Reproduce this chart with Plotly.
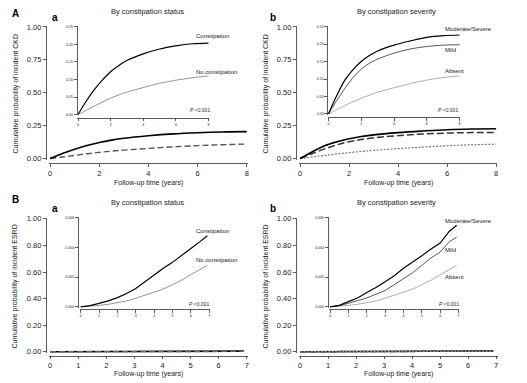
import plotly.graph_objects as go

W, H = 527, 383
FONT = "Liberation Sans, Arial, sans-serif"

# ---------------- data ----------------
t_ckd = [0, 0.5, 1, 1.5, 2, 2.5, 3, 4, 5, 6, 7, 8]
ckd_constip = [0, 0.038, 0.071, 0.099, 0.122, 0.140, 0.154, 0.173, 0.187, 0.196, 0.202, 0.204]
ckd_noconstip = [0, 0.012, 0.024, 0.036, 0.047, 0.056, 0.064, 0.077, 0.089, 0.098, 0.105, 0.110]
ckd_modsev = [0, 0.052, 0.097, 0.127, 0.150, 0.167, 0.180, 0.197, 0.209, 0.219, 0.224, 0.226]
ckd_mild = [0, 0.038, 0.073, 0.104, 0.128, 0.145, 0.157, 0.174, 0.186, 0.193, 0.197, 0.198]
ckd_absent = [0, 0.012, 0.024, 0.035, 0.045, 0.054, 0.062, 0.075, 0.087, 0.097, 0.104, 0.109]

t_esrd = [0, 0.5, 1, 1.5, 2, 2.5, 3, 3.5, 4, 4.5, 5, 5.5, 6, 6.5, 6.9]
esrd_constip = [0, 0.00008, 0.00024, 0.0004, 0.00062, 0.0009, 0.00124, 0.0017, 0.00212, 0.0026, 0.0030, 0.0035, 0.00394, 0.0044, 0.0048]
esrd_noconstip = [0, 0.00003, 0.0001, 0.00017, 0.00026, 0.0004, 0.00058, 0.00077, 0.00097, 0.0012, 0.0015, 0.0018, 0.00217, 0.0025, 0.0028]
esrd_modsev = [0, 0.0001, 0.00035, 0.0006, 0.00097, 0.0013, 0.0017, 0.0021, 0.0026, 0.0030, 0.00345, 0.0039, 0.0043, 0.0051, 0.0055]
esrd_mild = [0, 0.00008, 0.00024, 0.0004, 0.0006, 0.00085, 0.0011, 0.0015, 0.0019, 0.0023, 0.0028, 0.0033, 0.0037, 0.0044, 0.0047]
esrd_absent = [0, 0.00003, 0.0001, 0.00017, 0.00026, 0.0004, 0.00058, 0.00077, 0.00097, 0.0012, 0.0015, 0.0018, 0.00217, 0.0025, 0.0028]

ticks_ckd_x = [0, 2, 4, 6, 8]
ticks_esrd_x = [0, 1, 2, 3, 4, 5, 6, 7]
ticks_main_ckd_y = [0, 0.25, 0.5, 0.75, 1.0]
ticks_main_esrd_y = [0, 0.2, 0.4, 0.6, 0.8, 1.0]
ticks_inset_ckd_y = [0, 0.05, 0.10, 0.15, 0.20, 0.25]
ticks_inset_esrd_y = [0, 0.002, 0.004, 0.006]

fig = go.Figure()
layout = {}

def add_axes(n, xa, xb, xpx, ya, yb, ypy, yline_px, xline_py, xticks, yticks, yfmt, fs, xpad, ypad):
    """xpx=(px at xa, px at xb); ypy=(py at ya, py at yb)"""
    bx = (xpx[1] - xpx[0]) / (xb - xa)
    by = (ypy[0] - ypy[1]) / (yb - ya)
    lo, hi = xa - xpad, xb + xpad
    d0 = xpx[0] + (lo - xa) * bx
    d1 = xpx[0] + (hi - xa) * bx
    ylo, yhi = ya - ypad, yb + ypad
    e0 = ypy[0] - (ylo - ya) * by
    e1 = ypy[0] - (yhi - ya) * by
    common = dict(showline=True, linecolor="#333", linewidth=0.8, ticks="outside",
                  ticklen=3, tickwidth=0.8, tickcolor="#333", showgrid=False,
                  zeroline=False, tickfont=dict(size=fs, color="#222", family=FONT),
                  anchor="free")
    sfx = "" if n == 1 else str(n)
    layout["xaxis" + sfx] = dict(common, domain=[d0 / W, d1 / W], range=[lo, hi],
                                 tickvals=xticks, position=1 - xline_py / H)
    layout["yaxis" + sfx] = dict(common, domain=[1 - e0 / H, 1 - e1 / H], range=[ylo, yhi],
                                 tickvals=yticks, tickformat=yfmt, position=yline_px / W)
    return "x" + sfx, "y" + sfx

def line(xa, ya, x, y, color, width, dash="solid", shape="spline"):
    fig.add_trace(go.Scatter(x=x, y=y, xaxis=xa, yaxis=ya, mode="lines",
                             line=dict(color=color, width=width, dash=dash, shape=shape),
                             showlegend=False, hoverinfo="skip"))

MF, IF = 7.5, 3.6
# Panel A-a main
xa, ya = add_axes(1, 0, 8, (49.3, 246.7), 0, 1, (158, 24.3), 45, 163,
                  ticks_ckd_x, ticks_main_ckd_y, ".2f", MF, 0.05, 0.01)
line(xa, ya, t_ckd, ckd_noconstip, "#555", 1.4, "6px,3px")
line(xa, ya, t_ckd, ckd_constip, "#000", 1.6)
# Panel A-a inset
xa, ya = add_axes(2, 0, 8, (77.3, 208.3), 0, 0.25, (113.3, 24.3), 76, 116.5,
                  ticks_ckd_x, ticks_inset_ckd_y, ".2f", IF, 0.05, 0.0025)
line(xa, ya, t_ckd, ckd_noconstip, "#888", 0.9)
line(xa, ya, t_ckd, ckd_constip, "#000", 1.2)
# Panel A-b main
xa, ya = add_axes(3, 0, 8, (300.3, 497), 0, 1, (158, 24.3), 296, 163,
                  ticks_ckd_x, ticks_main_ckd_y, ".2f", MF, 0.05, 0.01)
line(xa, ya, t_ckd, ckd_absent, "#777", 1.2, "2px,1.5px")
line(xa, ya, t_ckd, ckd_mild, "#333", 1.5, "7px,3px")
line(xa, ya, t_ckd, ckd_modsev, "#000", 1.6)
# Panel A-b inset
xa, ya = add_axes(4, 0, 8, (328.7, 460.3), 0, 0.25, (112.7, 24.0), 327.7, 116,
                  ticks_ckd_x, ticks_inset_ckd_y, ".2f", IF, 0.05, 0.0025)
line(xa, ya, t_ckd, ckd_absent, "#999", 0.8)
line(xa, ya, t_ckd, ckd_mild, "#444", 0.9)
line(xa, ya, t_ckd, ckd_modsev, "#000", 1.2)
# Panel B-a main
xa, ya = add_axes(5, 0, 7, (49.3, 246.7), 0, 1, (354.3, 219.3), 45, 358.3,
                  ticks_esrd_x, ticks_main_esrd_y, ".2f", MF, 0.05, 0.01)
line(xa, ya, t_esrd, esrd_constip, "#000", 1.6, shape="linear")
line(xa, ya, t_esrd, esrd_noconstip, "#666", 1.4, "6px,3px", shape="linear")
# Panel B-a inset
xa, ya = add_axes(6, 0, 7, (80, 209), 0, 0.006, (308.7, 218.3), 77.3, 311,
                  ticks_esrd_x, ticks_inset_esrd_y, ".3f", IF, 0.05, 0.00006)
line(xa, ya, t_esrd, esrd_noconstip, "#888", 0.9, shape="linear")
line(xa, ya, t_esrd, esrd_constip, "#000", 1.2, shape="linear")
# Panel B-b main
xa, ya = add_axes(7, 0, 7, (300.3, 497), 0, 1, (354.3, 219.3), 296, 358.3,
                  ticks_esrd_x, ticks_main_esrd_y, ".2f", MF, 0.05, 0.01)
line(xa, ya, t_esrd, esrd_modsev, "#000", 1.6, shape="linear")
line(xa, ya, t_esrd, esrd_mild, "#333", 1.5, "7px,3px", shape="linear")
line(xa, ya, t_esrd, esrd_absent, "#888", 1.2, "2px,1.5px", shape="linear")
# Panel B-b inset
xa, ya = add_axes(8, 0, 7, (330.3, 459.3), 0, 0.006, (308.7, 218.3), 328, 311,
                  ticks_esrd_x, ticks_inset_esrd_y, ".3f", IF, 0.05, 0.00006)
line(xa, ya, t_esrd, esrd_absent, "#999", 0.8, shape="linear")
line(xa, ya, t_esrd, esrd_mild, "#444", 0.9, shape="linear")
line(xa, ya, t_esrd, esrd_modsev, "#000", 1.2, shape="linear")

anns = []
def txt(x, y, s, size, xanchor="left", bold=False, angle=0, color="#222"):
    if bold:
        s = "<b>" + s + "</b>"
    anns.append(dict(x=x / W, y=1 - y / H, xref="paper", yref="paper", text=s,
                     showarrow=False, xanchor=xanchor, yanchor="middle", textangle=angle,
                     font=dict(size=size, color=color, family=FONT)))

# panel letters
txt(9, 11, "A", 10, bold=True, color="#000")
txt(49, 15, "a", 10, bold=True, color="#000")
txt(268, 15, "b", 10, bold=True, color="#000")
txt(9, 200, "B", 10, bold=True, color="#000")
txt(49, 209, "a", 10, bold=True, color="#000")
txt(268, 209, "b", 10, bold=True, color="#000")
# titles
txt(147, 9, "By constipation status", 7.5, "center")
txt(397, 9, "By constipation severity", 7.5, "center")
txt(147, 203, "By constipation status", 7.5, "center")
txt(397, 203, "By constipation severity", 7.5, "center")
# x titles
for cx in (148, 399):
    txt(cx, 183, "Follow-up time (years)", 7, "center")
    txt(cx, 377, "Follow-up time (years)", 7, "center")
# y titles
for xx in (15, 266):
    txt(xx, 92, "Cumulative probability of incident CKD", 7, "center", angle=-90)
    txt(xx, 288, "Cumulative probability of incident ESRD", 7, "center", angle=-90)
# inset labels
LF = 6
txt(194, 34, "Constipation", LF)
txt(194, 70, "No constipation", LF)
txt(188, 109, "<i>P</i> <0.001", 5)
txt(444, 26, "Moderate/Severe", LF)
txt(444, 48, "Mild", LF)
txt(444, 69, "Absent", LF)
txt(437, 109, "<i>P</i> <0.001", 5)
txt(194, 232, "Constipation", LF)
txt(194, 261, "No constipation", LF)
txt(187, 306, "<i>P</i> <0.001", 5)
txt(444, 221, "Moderate/Severe", LF)
txt(444, 251, "Mild", LF)
txt(444, 278, "Absent", LF)
txt(438, 306, "<i>P</i> <0.001", 5)

fig.update_layout(width=W, height=H, margin=dict(l=0, r=0, t=0, b=0),
                  paper_bgcolor="white", plot_bgcolor="rgba(0,0,0,0)",
                  font=dict(family=FONT), annotations=anns, **layout)
fig.write_html("out.html", config={"displayModeBar": False, "staticPlot": True},
               post_script="document.body.style.margin='0px';document.body.style.padding='0px';")
